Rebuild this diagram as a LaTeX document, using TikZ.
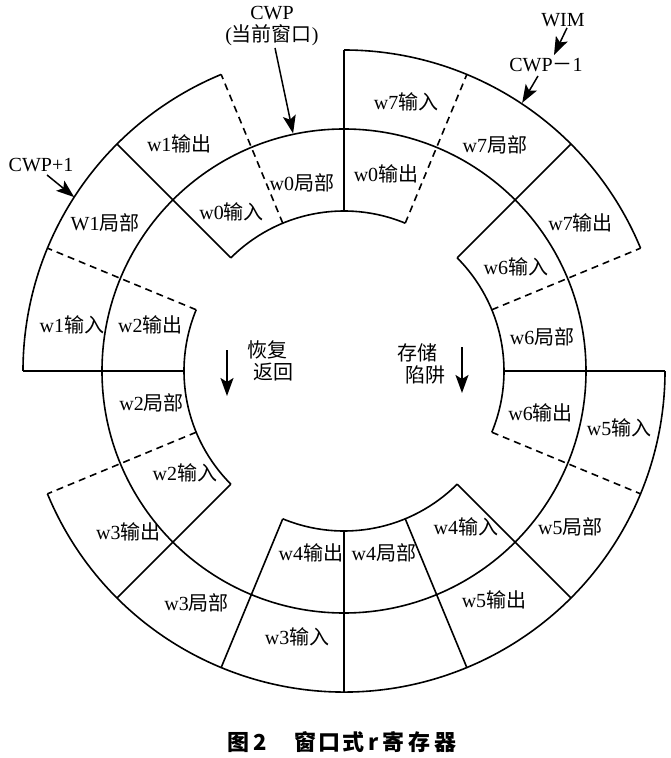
\documentclass[tikz,border=0pt]{standalone}
\usepackage{fontspec}
\setmainfont{Liberation Serif}
\newfontfamily\cjkfont{Noto Sans CJK SC}
\newcommand\zhtxt[1]{{\cjkfont #1}}
\usetikzlibrary{arrows.meta}
\begin{document}
\begin{tikzpicture}[x=1pt,y=1pt,
  ln/.style={line width=1.6pt},
  dsh/.style={line width=1.6pt, dash pattern=on 7pt off 5pt},
  lbl/.style={inner sep=0pt, font=\fontsize{20}{22}\selectfont},
  arr/.style={line width=1.5pt, -{Stealth[length=18pt,width=13pt,inset=4pt]}},
]
\useasboundingbox (-344,-387) rectangle (327,371);
\coordinate (O) at (0,0);

% rings
\draw[ln] (O) circle[radius=242pt];
\draw[ln] (67.5:160pt) arc[start angle=67.5,end angle=135,radius=160pt];
\draw[ln] (157.5:160pt) arc[start angle=157.5,end angle=225,radius=160pt];
\draw[ln] (247.5:160pt) arc[start angle=247.5,end angle=315,radius=160pt];
\draw[ln] (337.5:160pt) arc[start angle=337.5,end angle=405,radius=160pt];
\draw[ln] (22.5:321pt) arc[start angle=22.5,end angle=90,radius=321pt];
\draw[ln] (112.5:321pt) arc[start angle=112.5,end angle=180,radius=321pt];
\draw[ln] (202.5:321pt) arc[start angle=202.5,end angle=360,radius=321pt];
\foreach \a in {0,45,90,135,180,225,247.5,270,292.5,315}
  \draw[ln] (\a:160pt) -- (\a:321pt);
\foreach \a in {22.5,67.5,112.5,157.5,202.5,337.5}
  \draw[dsh] (\a:160pt) -- (\a:321pt);

% inner ring labels
\node[lbl] (w0o) at (78:202pt)     {w0\zhtxt{输出}};
\node[lbl] (w0l) at (102.6:193pt)  {w0\zhtxt{局部}};
\node[lbl] (w0i) at (125.2:195pt)  {w0\zhtxt{输入}};
\node[lbl] (w2o) at (166.7:199pt)  {w2\zhtxt{输出}};
\node[lbl] (w2l) at (189.5:195pt)  {w2\zhtxt{局部}};
\node[lbl] (w2i) at (212.7:189pt)  {w2\zhtxt{输入}};
\node[lbl] (w4o) at (259.7:185pt)  {w4\zhtxt{输出}};
\node[lbl] (w4l) at (282.4:186pt)  {w4\zhtxt{局部}};
\node[lbl] (w4i) at (-52:198pt)    {w4\zhtxt{输入}};
\node[lbl] (w6o) at (-12:201pt)    {w6\zhtxt{输出}};
\node[lbl] (w6l) at (9.7:201pt)    {w6\zhtxt{局部}};
\node[lbl] (w6i) at (31.2:201pt)   {w6\zhtxt{输入}};
% outer ring labels
\node[lbl] (w1o) at (125.9:281pt)  {w1\zhtxt{输出}};
\node[lbl] (w1l) at (148.2:281pt)  {W1\zhtxt{局部}};
\node[lbl] (w1i) at (170.4:276pt)  {w1\zhtxt{输入}};
\node[lbl] (w3o) at (216.7:269pt)  {w3\zhtxt{输出}};
\node[lbl] (w3l) at (237.6:275pt)  {w3\zhtxt{局部}};
\node[lbl] (w3i) at (260:270pt)    {w3\zhtxt{输入}};
\node[lbl] (w5o) at (-56.8:274pt)  {w5\zhtxt{输出}};
\node[lbl] (w5l) at (-34.6:275pt)  {w5\zhtxt{局部}};
\node[lbl] (w5i) at (-11.7:281pt)  {w5\zhtxt{输入}};
\node[lbl] (w7o) at (32:279pt)     {w7\zhtxt{输出}};
\node[lbl] (w7l) at (56.3:272pt)   {w7\zhtxt{局部}};
\node[lbl] (w7i) at (77:276pt)     {w7\zhtxt{输入}};

% pointers
\node[lbl, align=center] (cwp) at (-72,345) {CWP\\(\zhtxt{当前窗口})};
\coordinate (cwptip) at (102.1:243pt);
\draw[arr] ([xshift=3pt,yshift=-2pt]cwp.south) -- (cwptip);

\node[lbl] (wim) at (219,351) {WIM};
\node[lbl] (cwpm) at (202,306) {CWP\zhtxt{－}1};
\coordinate (cwpmtip) at (56.4:322pt);
\draw[arr] ([xshift=4pt,yshift=-1pt]wim.south) -- ([xshift=8pt,yshift=3pt]cwpm.north);
\draw[arr] ([xshift=-8pt,yshift=-4pt]cwpm.south) -- (cwpmtip);

\node[lbl] (cwpp) at (-303,206) {CWP+1};
\coordinate (cwpptip) at (147.2:321pt);
\draw[arr] ([xshift=6pt,yshift=-3pt]cwpp.south) -- (cwpptip);

% centre notes
\node[lbl] (hf1) at (-76,21) {\zhtxt{恢复}};
\node[lbl] (hf2) at (-70,-1) {\zhtxt{返回}};
\coordinate (ra1) at (-117,21);
\coordinate (ra2) at (-117,-25);
\draw[arr] (ra1) -- (ra2);
\node[lbl] (cc1) at (73,18) {\zhtxt{存储}};
\node[lbl] (cc2) at (81,-4) {\zhtxt{陷阱}};
\coordinate (rb1) at (118,24);
\coordinate (rb2) at (118,-22);
\draw[arr] (rb1) -- (rb2);

% caption
\node[inner sep=0pt, font=\fontsize{22}{24}\selectfont\cjkfont\bfseries] (cap) at (-2,-371)
  {图\hspace{4pt}2\hspace{28pt}窗\hspace{2pt}口\hspace{2pt}式\hspace{4pt}r\hspace{4pt}寄\hspace{4pt}存\hspace{4pt}器};
\end{tikzpicture}
\end{document}
